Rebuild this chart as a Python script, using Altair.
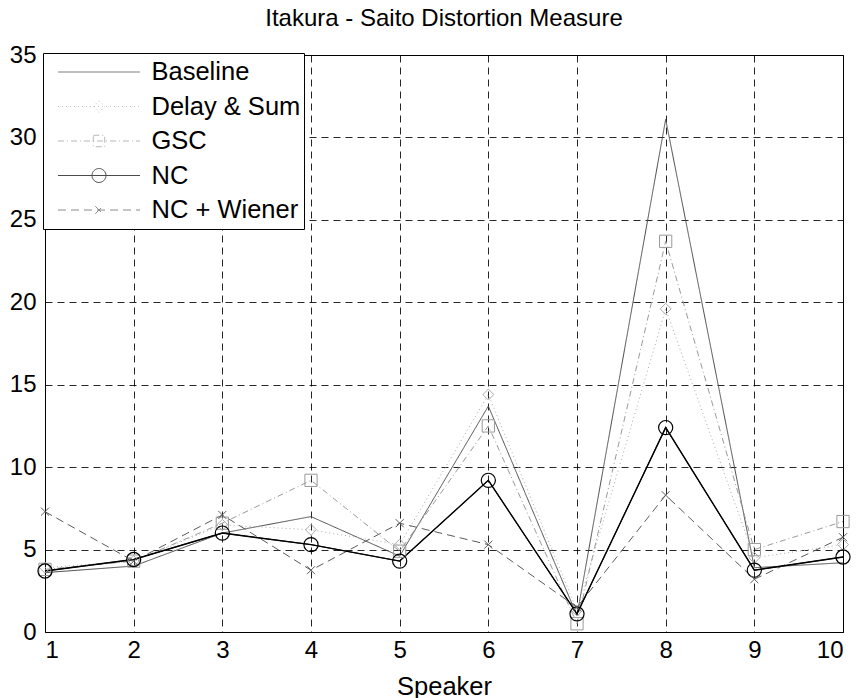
import altair as alt
import pandas as pd

speakers = [1, 2, 3, 4, 5, 6, 7, 8, 9, 10]
series_names = ["Baseline", "Delay & Sum", "GSC", "NC", "NC + Wiener"]
baseline = [3.6, 4.0, 6.0, 7.0, 4.6, 13.7, 1.0, 31.1, 3.9, 4.2]
delay_sum = [3.9, 4.3, 6.5, 6.2, 5.3, 14.4, 1.3, 19.6, 4.5, 5.3]
gsc = [3.8, 4.3, 6.6, 9.2, 4.9, 12.5, 0.5, 23.7, 5.0, 6.7]
nc = [3.7, 4.4, 6.0, 5.3, 4.3, 9.2, 1.1, 12.4, 3.75, 4.55]
nc_wiener = [7.3, 4.3, 7.1, 3.75, 6.6, 5.3, 1.5, 8.3, 3.2, 5.75]

values = [baseline, delay_sum, gsc, nc, nc_wiener]
rows = []
for name, vals in zip(series_names, values):
    for s, v in zip(speakers, vals):
        rows.append({"Speaker": s, "value": v, "series": name})
df = pd.DataFrame(rows)

colors = ["#4a4a4a", "#ababab", "#9a9a9a", "#000000", "#5a5a5a"]
dashes = [[1, 0], [1, 3], [6, 3, 1, 3], [1, 0], [8, 5]]

# legend symbols: a line across with the marker in the middle (unit coords)
circle_r = 0.17
legend_paths = [
    "M-1,0L1,0",
    "M-1,0L1,0M0,-0.14L0.14,0L0,0.14L-0.14,0Z",
    "M-1,0L1,0M-0.14,-0.14L0.14,-0.14L0.14,0.14L-0.14,0.14Z",
    f"M-1,0L1,0M{circle_r},0A{circle_r},{circle_r} 0 1,1 -{circle_r},0A{circle_r},{circle_r} 0 1,1 {circle_r},0",
    "M-1,0L1,0M-0.09,-0.09L0.09,0.09M-0.09,0.09L0.09,-0.09",
]

color_scale = alt.Scale(domain=series_names, range=colors)
dash_scale = alt.Scale(domain=series_names, range=dashes)
shape_scale = alt.Scale(domain=series_names, range=legend_paths)

legend_spec = alt.Legend(
    title=None,
    orient="none",
    legendX=-2,
    legendY=-2,
    fillColor="white",
    strokeColor="black",
    padding=3,
    symbolSize=6724,
    symbolStrokeWidth=1,
    clipHeight=32,
    rowPadding=2.5,
    symbolOffset=11.5,
    labelOffset=11,
    labelFont="Liberation Sans",
    labelFontSize=25.5,
    labelColor="black",
)

x_enc = alt.X(
    "Speaker:Q",
    scale=alt.Scale(domain=[1, 10], nice=False, zero=False),
    axis=alt.Axis(values=speakers, format="d", title="Speaker"),
)
y_enc = alt.Y(
    "value:Q",
    scale=alt.Scale(domain=[0, 35], nice=False),
    axis=alt.Axis(values=[0, 5, 10, 15, 20, 25, 30, 35], format="d", title=None),
)

base = alt.Chart(df)

legend_layer = base.transform_filter("false").mark_point(filled=False, strokeWidth=1).encode(
    x=x_enc,
    y=y_enc,
    color=alt.Color("series:N", scale=color_scale, legend=legend_spec),
    strokeDash=alt.StrokeDash("series:N", scale=dash_scale, legend=legend_spec),
    shape=alt.Shape("series:N", scale=shape_scale, legend=legend_spec),
)

lines = base.mark_line(strokeWidth=1).encode(
    x=x_enc,
    y=y_enc,
    color=alt.Color("series:N", scale=color_scale, legend=legend_spec),
    strokeDash=alt.StrokeDash("series:N", scale=dash_scale, legend=legend_spec),
    detail="series:N",
)

nc_line = base.transform_filter(alt.datum.series == "NC").mark_line(
    strokeWidth=1.4, color="#000000"
).encode(x=x_enc, y=y_enc)

def markers(name, shape, size, sw=1):
    return base.transform_filter(alt.datum.series == name).mark_point(
        shape=shape, size=size, filled=False, strokeWidth=sw, opacity=1
    ).encode(
        x=x_enc,
        y=y_enc,
        color=alt.Color("series:N", scale=color_scale, legend=legend_spec),
    )

m_ds = markers("Delay & Sum", "diamond", 120)
m_gsc = markers("GSC", "square", 150)
m_nc = markers("NC", "circle", 200, 1.2)
m_ncw = markers("NC + Wiener", "M-1,-1L1,1M-1,1L1,-1", 64)

chart = alt.layer(legend_layer, lines, nc_line, m_ds, m_gsc, m_nc, m_ncw).properties(
    width=798,
    height=577,
    title=alt.TitleParams(
        "Itakura - Saito Distortion Measure",
        font="Liberation Sans",
        fontSize=24,
        fontWeight="normal",
        color="black",
        frame="group",
        baseline="alphabetic",
        offset=0,
        dy=7,
    ),
    autosize=alt.AutoSizeParams(type="none"),
    padding={"left": 45, "top": 55, "right": 14, "bottom": 66},
).configure_view(
    stroke="black", strokeWidth=1
).configure_axis(
    grid=True,
    gridColor="#000000",
    gridDash=[7, 5],
    gridWidth=1,
    gridOpacity=0.85,
    ticks=False,
    domain=False,
    labelFont="Liberation Sans",
    labelFontSize=24,
    labelColor="black",
    titleFont="Liberation Sans",
    titleFontSize=25.5,
    titleFontWeight="normal",
    titleColor="black",
).configure_axisX(
    labelPadding=6, titlePadding=12
).configure_axisY(
    labelPadding=9
)

chart.save("out.html", embed_options={"renderer": "svg", "actions": False})
